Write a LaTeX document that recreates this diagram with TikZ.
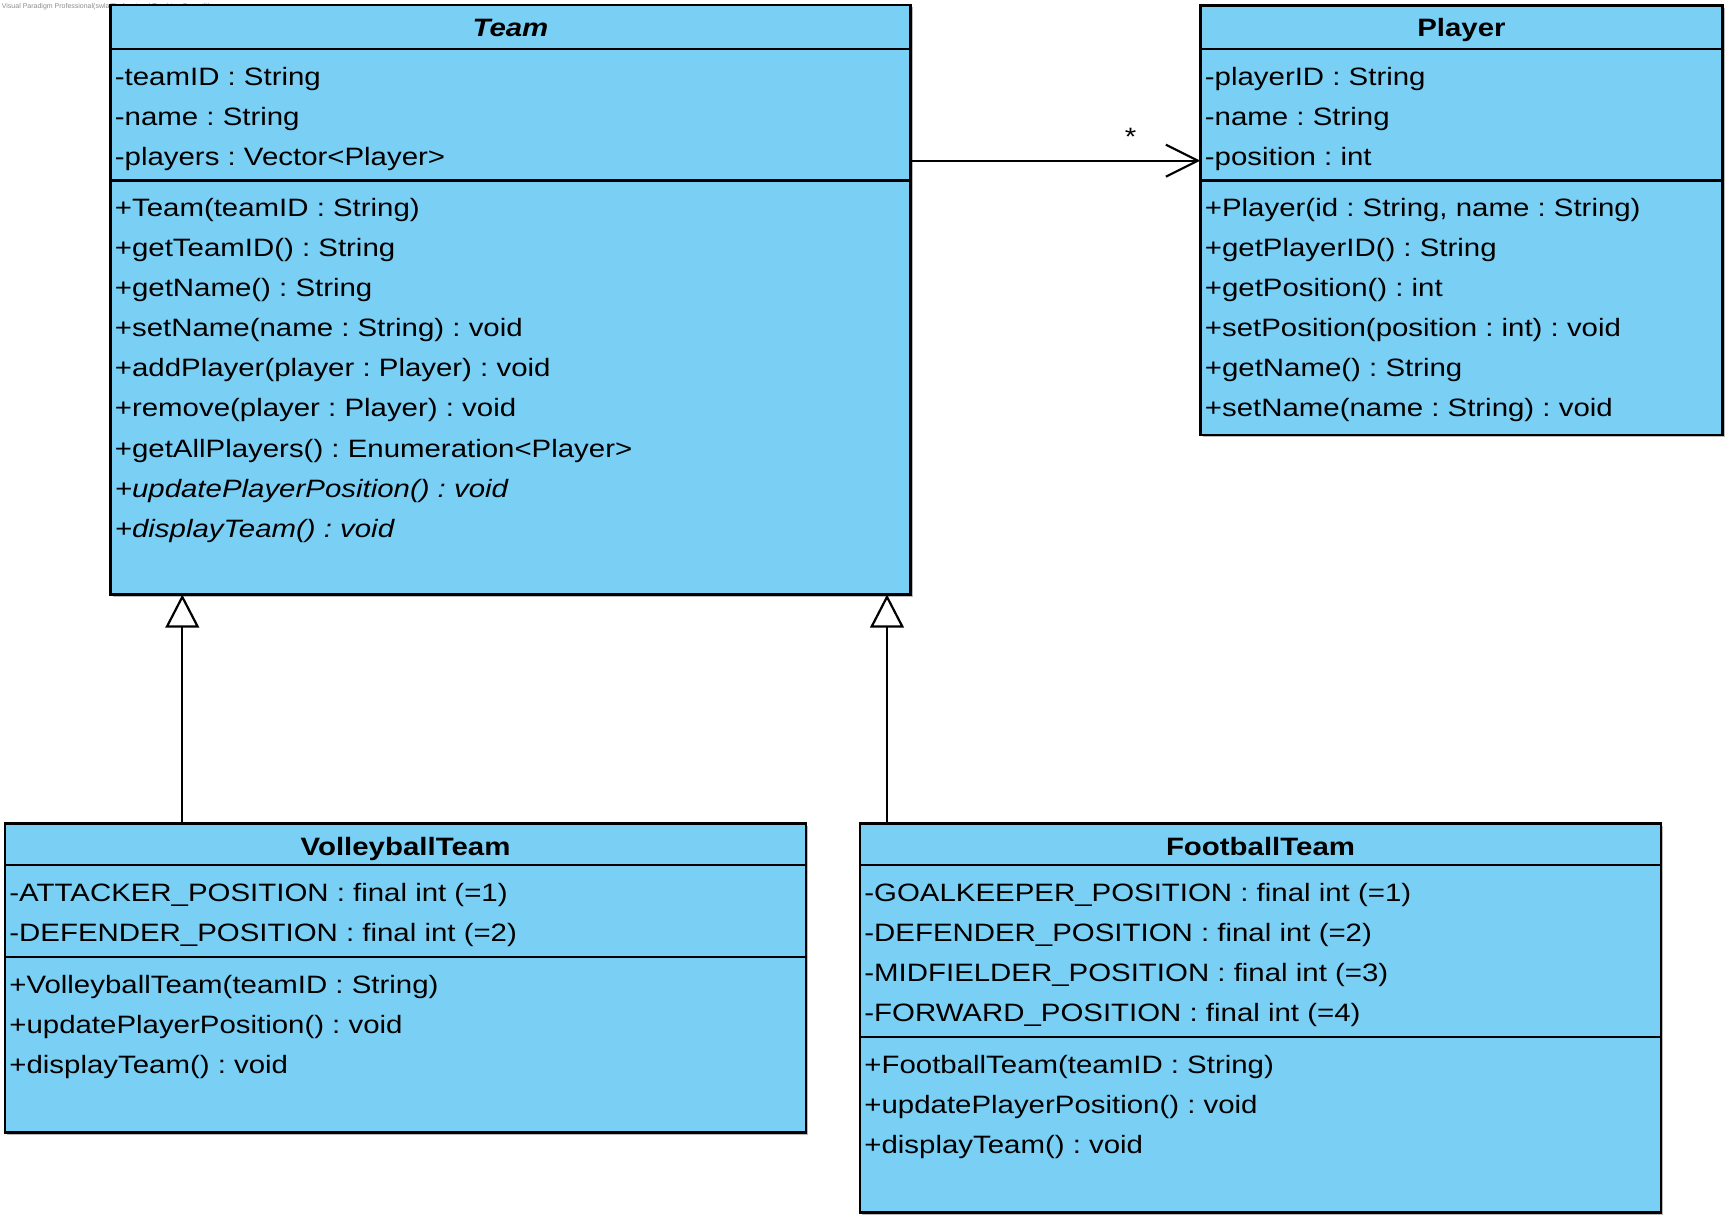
\documentclass[tikz,border=0pt]{standalone}
\usepackage{fontspec}
\setmainfont{Liberation Sans}[FakeStretch=1.17]
\newfontfamily\markfont{Liberation Sans}
\usetikzlibrary{arrows.meta,shadows}
\definecolor{classfill}{RGB}{122,207,245}
\frenchspacing

\begin{document}
\begin{tikzpicture}[x=0.5pt,y=-0.5pt,
  umlbox/.style={draw=black, fill=classfill, line width=1.2pt, rectangle,
    anchor=north west, inner sep=0pt, outer sep=0pt,
    drop shadow={shadow xshift=1.1pt, shadow yshift=-1.1pt, fill=black!45, opacity=0.6}},
  member/.style={anchor=base west, inner sep=0pt, font=\fontsize{12.57}{15}\selectfont},
  title/.style={anchor=base, inner sep=0pt, font=\fontsize{12.57}{15}\selectfont\bfseries},
  sep/.style={line width=1.2pt},
  link/.style={line width=1.1pt, draw=black},
  inherit/.style={link, -{Triangle[open, fill=white, length=16.5pt, width=16.8pt]}},
  assoc/.style={link, -{Straight Barb[length=16pt, width=16pt]}},
]
\useasboundingbox (0,0) rectangle (1733,1224);

% tool stamp, partly hidden under the Team class
\node[anchor=base west, inner sep=0pt, text=black!45, font=\markfont\fontsize{3.5}{4}\selectfont]
  (stamp) at (1.5,8.5) {Visual Paradigm Professional(swla(Professional Teaching Council))};

% ---------- class boxes ----------
\node[umlbox, minimum width=400pt, minimum height=294.75pt] (team) at (110.5,5) {};
\node[umlbox, minimum width=261.1pt, minimum height=214.75pt] (player) at (1200.3,5.5) {};
\node[umlbox, minimum width=400.5pt, minimum height=154.5pt] (volley) at (5,823.3) {};
\node[umlbox, minimum width=400.5pt, minimum height=194.6pt] (foot) at (860,823.3) {};

% compartment separators
\draw[sep] (team.west |- 0,49) -- (team.east |- 0,49);
\draw[sep] (team.west |- 0,180.5) -- (team.east |- 0,180.5);
\draw[sep] (player.west |- 0,49) -- (player.east |- 0,49);
\draw[sep] (player.west |- 0,180.5) -- (player.east |- 0,180.5);
\draw[sep] (volley.west |- 0,865) -- (volley.east |- 0,865);
\draw[sep] (volley.west |- 0,956.7) -- (volley.east |- 0,956.7);
\draw[sep] (foot.west |- 0,865) -- (foot.east |- 0,865);
\draw[sep] (foot.west |- 0,1036.7) -- (foot.east |- 0,1036.7);

% ---------- Team ----------
\node[title] (teamT) at (510.5,36.5) {\itshape Team};
\node[member] (team-a1) at (114.5,85.3) {-teamID : String};
\node[member] (team-a2) at (114.5,125.4) {-name : String};
\node[member] (team-a3) at (114.5,165.5) {-players : Vector<Player>};
\node[member] (team-m1) at (114.5,216.5) {+Team(teamID : String)};
\node[member] (team-m2) at (114.5,256.6) {+getTeamID() : String};
\node[member] (team-m3) at (114.5,296.7) {+getName() : String};
\node[member] (team-m4) at (114.5,336.8) {+setName(name : String) : void};
\node[member] (team-m5) at (114.5,376.9) {+addPlayer(player : Player) : void};
\node[member] (team-m6) at (114.5,417.0) {+remove(player : Player) : void};
\node[member] (team-m7) at (114.5,457.1) {+getAllPlayers() : Enumeration<Player>};
\node[member] (team-m8) at (114.5,497.2) {\itshape +updatePlayerPosition() : void};
\node[member] (team-m9) at (114.5,537.3) {\itshape +displayTeam() : void};

% ---------- Player ----------
\node[title] (playerT) at (1461.4,36.5) {Player};
\node[member] (player-a1) at (1204.5,85.3) {-playerID : String};
\node[member] (player-a2) at (1204.5,125.4) {-name : String};
\node[member] (player-a3) at (1204.5,165.5) {-position : int};
\node[member] (player-m1) at (1204.5,216.5) {+Player(id : String, name : String)};
\node[member] (player-m2) at (1204.5,256.6) {+getPlayerID() : String};
\node[member] (player-m3) at (1204.5,296.7) {+getPosition() : int};
\node[member] (player-m4) at (1204.5,336.8) {+setPosition(position : int) : void};
\node[member] (player-m5) at (1204.5,376.9) {+getName() : String};
\node[member] (player-m6) at (1204.5,417.0) {+setName(name : String) : void};

% ---------- VolleyballTeam ----------
\node[title] (volleyT) at (405.5,855) {VolleyballTeam};
\node[member] (volley-a1) at (9,901.5) {-ATTACKER\_POSITION : final int (=1)};
\node[member] (volley-a2) at (9,941.6) {-DEFENDER\_POSITION : final int (=2)};
\node[member] (volley-m1) at (9,993) {+VolleyballTeam(teamID : String)};
\node[member] (volley-m2) at (9,1033.1) {+updatePlayerPosition() : void};
\node[member] (volley-m3) at (9,1073.2) {+displayTeam() : void};

% ---------- FootballTeam ----------
\node[title] (footT) at (1260.5,855) {FootballTeam};
\node[member] (foot-a1) at (864,901.5) {-GOALKEEPER\_POSITION : final int (=1)};
\node[member] (foot-a2) at (864,941.6) {-DEFENDER\_POSITION : final int (=2)};
\node[member] (foot-a3) at (864,981.7) {-MIDFIELDER\_POSITION : final int (=3)};
\node[member] (foot-a4) at (864,1021.8) {-FORWARD\_POSITION : final int (=4)};
\node[member] (foot-m1) at (864,1073) {+FootballTeam(teamID : String)};
\node[member] (foot-m2) at (864,1113.1) {+updatePlayerPosition() : void};
\node[member] (foot-m3) at (864,1153.2) {+displayTeam() : void};

% ---------- relationships ----------
\draw[inherit] (volley.north -| 182.3,0) -- (team.south -| 182.3,0);
\draw[inherit] (foot.north -| 887,0) -- (team.south -| 887,0);
\draw[assoc] (team.east |- 0,160.7) -- (player.west |- 0,160.7);
\node[anchor=base, inner sep=0pt, font=\fontsize{12.57}{15}\selectfont] (mult) at (1130.7,146) {*};

\end{tikzpicture}
\end{document}
